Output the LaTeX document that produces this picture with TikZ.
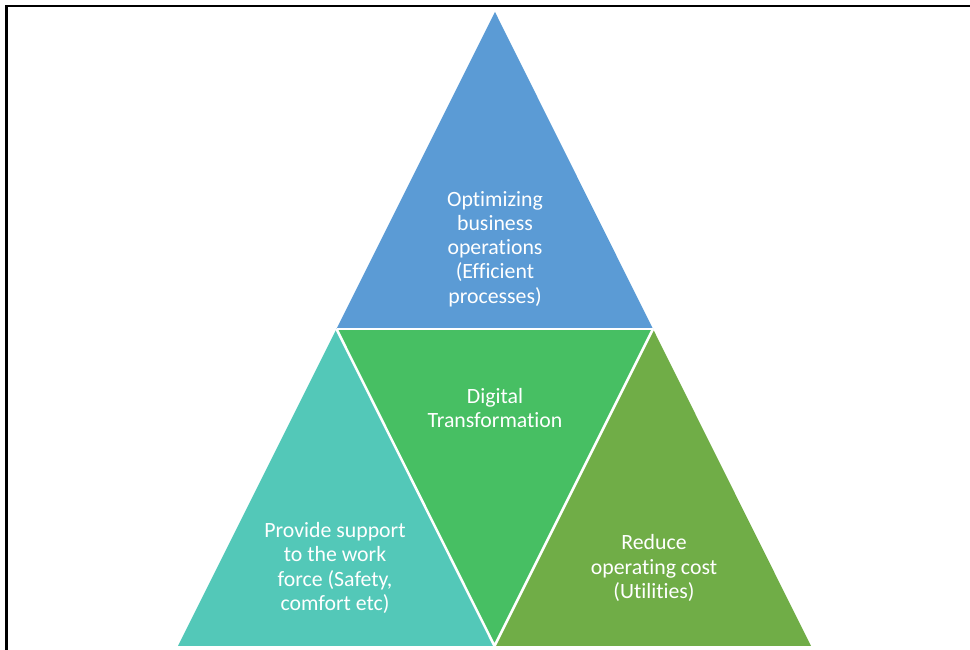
\documentclass[tikz,border=0pt]{standalone}
\usepackage{fontspec}
\setmainfont{Carlito}[Ligatures={NoCommon}]
\definecolor{cblue}{HTML}{5B9BD5}
\definecolor{cteal}{HTML}{53C8B8}
\definecolor{cgreen}{HTML}{47BF63}
\definecolor{colive}{HTML}{70AD47}
\begin{document}
\begin{tikzpicture}[x=1pt,y=1pt,
  lbl/.style={text=white,align=center,font=\fontsize{21.8}{24.2}\selectfont,inner sep=0pt},
  gap/.style={draw=white,line width=2.5pt}]
\useasboundingbox (0,0) rectangle (970,650);
% frame
\draw[line width=2.4pt,black] (6.3,0) -- (6.3,643.7) -- (970,643.7);
% vertices
\coordinate (A) at (495,638);
\coordinate (B) at (178,4);
\coordinate (C) at (811,4);
\coordinate (D) at (336.5,321);
\coordinate (E) at (653,321);
\coordinate (F) at (494.5,4);
% triangles
\fill[cblue] (A) -- (D) -- (E) -- cycle;
\fill[cteal] (D) -- (B) -- (F) -- cycle;
\fill[cgreen] (D) -- (E) -- (F) -- cycle;
\fill[colive] (E) -- (F) -- (C) -- cycle;
% white gaps
\draw[gap] (D) -- (E);
\draw[gap] (D) -- (F) -- (E);
% labels
\node[lbl] (top) at (495,401) {Optimizing\\business\\operations\\(Efficient\\processes)};
\node[lbl] (mid) at (495,242) {Digital\\Transformation};
\node[lbl] (left) at (335,82) {Provide support\\to the work\\force (Safety,\\comfort etc)};
\node[lbl] (right) at (654,82) {Reduce\\operating cost\\(Utilities)};
\end{tikzpicture}
\end{document}
